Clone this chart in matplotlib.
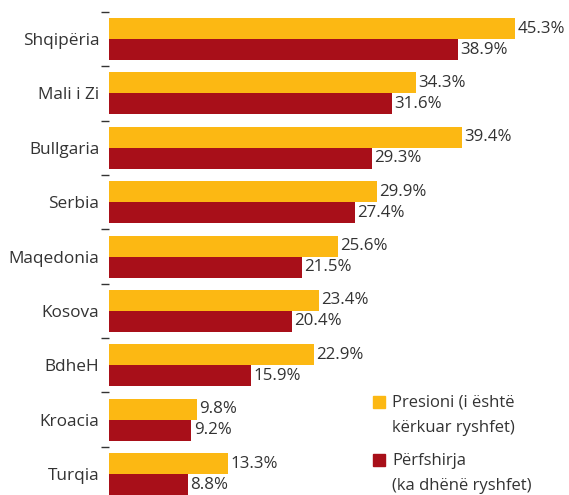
import numpy as np
import matplotlib.pyplot as plt
from matplotlib.patches import Rectangle

vendet = ["Shqipëria", "Mali i Zi", "Bullgaria", "Serbia", "Maqedonia",
          "Kosova", "BdheH", "Kroacia", "Turqia"]
presioni = [45.3, 34.3, 39.4, 29.9, 25.6, 23.4, 22.9, 9.8, 13.3]
perfshirja = [38.9, 31.6, 29.3, 27.4, 21.5, 20.4, 15.9, 9.2, 8.8]
emrat = [["Presioni (i është", "kërkuar ryshfet)"],
         ["Përfshirja", "(ka dhënë ryshfet)"]]

ngjyra_v = "#FCB813"
ngjyra_k = "#A80F19"
tekst = "#333333"

plt.rcParams['font.family'] = ['Open Sans', 'DejaVu Sans']

fig = plt.figure(figsize=(5.69, 4.95), dpi=100)
ax = fig.add_axes([109/569, 0, 460/569, 1 - 6.4/495])

y = np.arange(len(vendet))
h = 0.386
b1 = ax.barh(y - h/2, presioni, height=h, color=ngjyra_v)
b2 = ax.barh(y + h/2, perfshirja, height=h, color=ngjyra_k)

for bars, vals in ((b1, presioni), (b2, perfshirja)):
    for r, v in zip(bars, vals):
        ax.text(r.get_width() + 0.25, r.get_y() + r.get_height()/2,
                f"{v:.1f}%", va="center", ha="left", fontsize=12.2, color=tekst)

ax.set_xlim(0, 460/8.96)
ax.set_ylim(len(vendet) - 1 + h, -0.6)

# emrat e vendeve ne mes te grupit, vizat e vogla ndermjet grupeve
ax.set_yticks(y)
ax.set_yticklabels(vendet, fontsize=12.4, color=tekst)
ax.tick_params(axis="y", length=0, pad=7)
ax.set_yticks(y - 0.5, minor=True)
ax.tick_params(axis="y", which="minor", length=6, width=1, color="#333333", pad=2)
ax.set_xticks([])
for s in ax.spines.values():
    s.set_visible(False)

# legjenda: katrori me ngjyre dhe dy rreshta teksti
for i, (rreshtat, c) in enumerate(zip(emrat, (ngjyra_v, ngjyra_k))):
    yy = 6.673 + i * 1.066
    ax.add_patch(Rectangle((29.43, yy - 0.11), 1.37, 0.22, color=c, clip_on=False))
    for j, r in enumerate(rreshtat):
        ax.text(31.58, yy + 0.092 + j * 0.46, r, va="baseline", ha="left",
                fontsize=12, color=tekst)

plt.savefig("out.png", dpi=100)
